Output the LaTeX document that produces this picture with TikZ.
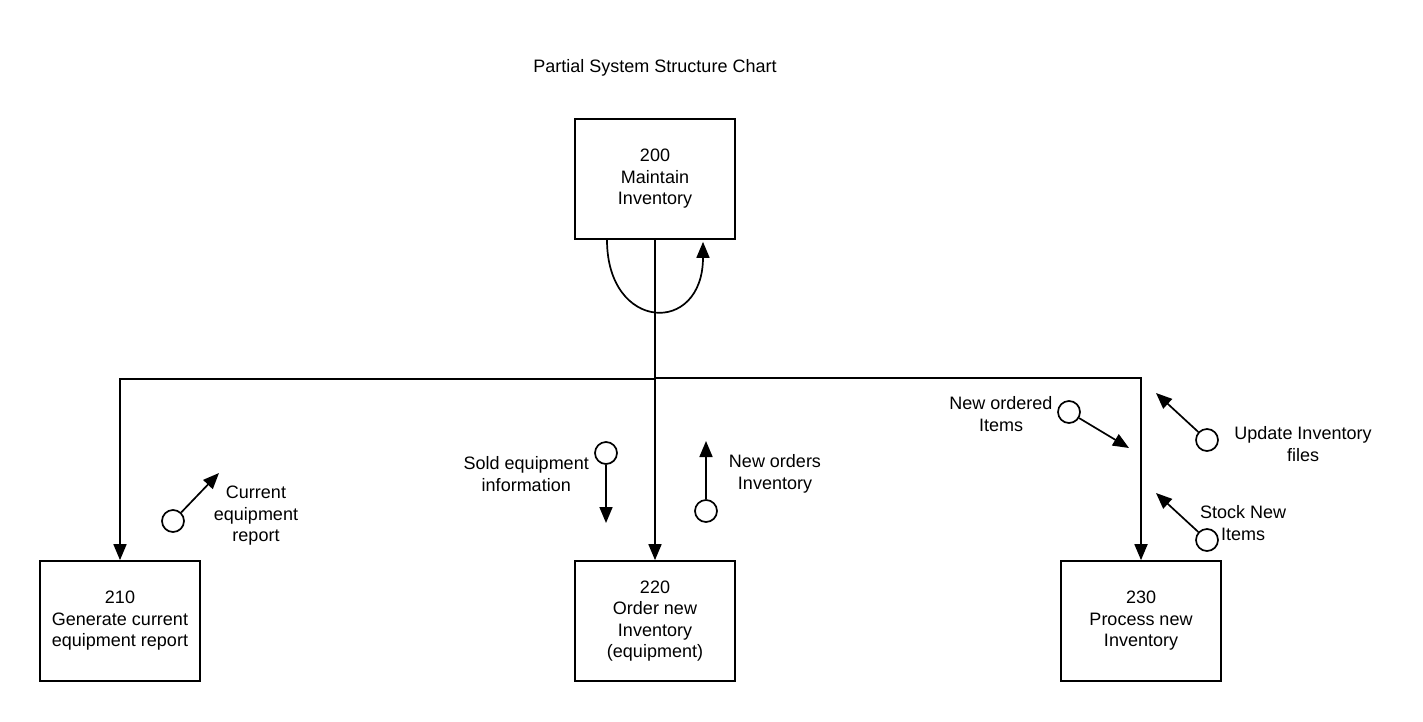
\documentclass[tikz,border=0pt]{standalone}
\usepackage{fontspec}
\setmainfont{Liberation Sans}
\usetikzlibrary{arrows.meta}

\begin{document}
\begin{tikzpicture}[x=1pt,y=-1pt,
    font=\fontsize{18}{21.5}\selectfont,
    module/.style={draw,line width=1.7pt,minimum width=160pt,minimum height=120pt,align=center,inner sep=0pt},
    couple/.style={draw,line width=1.7pt,circle,minimum size=22pt,inner sep=0pt},
    flow/.style={line width=1.7pt,-{Triangle[length=16pt,width=13pt]}},
    lbl/.style={align=center,inner sep=0pt}]
    \useasboundingbox (0,0) rectangle (1423,721);

    \node (title) at (655,68) {Partial System Structure Chart};

    \node[module] (m200) at (655,179) {200\\Maintain\\Inventory};
    \node[module] (m210) at (120,621) {210\\Generate current\\equipment report};
    \node[module] (m220) at (655,621) {220\\Order new\\Inventory\\(equipment)};
    \node[module] (m230) at (1141,621) {230\\Process new\\Inventory};

    \coordinate (jl) at (655,379);
    \coordinate (jr) at (655,378);
    \draw[flow] (m200.south) -- (m220.north);
    \draw[flow] (jl) -| (m210.north);
    \draw[flow] (jr) -| (m230.north);
    \draw[flow] ([xshift=-48pt]m200.south) .. controls +(0,-92pt) and +(0,-94pt) .. ([xshift=48pt,yshift=-2pt]m200.south);

    \node[couple] (cer) at (173,521) {};
    \coordinate (cer-to) at (219,473);
    \draw[flow] (cer) -- (cer-to);
    \node[lbl] (cer-l) at (256,516) {Current\\equipment\\report};

    \node[couple] (sei) at (606,453) {};
    \coordinate (sei-to) at (606,523);
    \draw[flow] (sei) -- (sei-to);
    \node[lbl,anchor=east] (sei-l) at (589,474) {Sold equipment\\information};

    \node[couple] (noi) at (706,511) {};
    \coordinate (noi-to) at (706,441);
    \draw[flow] (noi) -- (noi-to);
    \node[lbl] (noi-l) at (775,474) {New orders\\Inventory};

    \node[couple] (noit) at (1069,412) {};
    \coordinate (noit-to) at (1129,448);
    \draw[flow] (noit) -- (noit-to);
    \node[lbl] (noit-l) at (1001,414) {New ordered\\Items};

    \node[couple] (uif) at (1207,440) {};
    \coordinate (uif-to) at (1156,393);
    \draw[flow] (uif) -- (uif-to);
    \node[lbl] (uif-l) at (1303,444) {Update Inventory\\files};

    \node[couple] (sni) at (1207,540) {};
    \coordinate (sni-to) at (1156,493);
    \draw[flow] (sni) -- (sni-to);
    \node[lbl] (sni-l) at (1243,523) {Stock New\\Items};
\end{tikzpicture}
\end{document}
